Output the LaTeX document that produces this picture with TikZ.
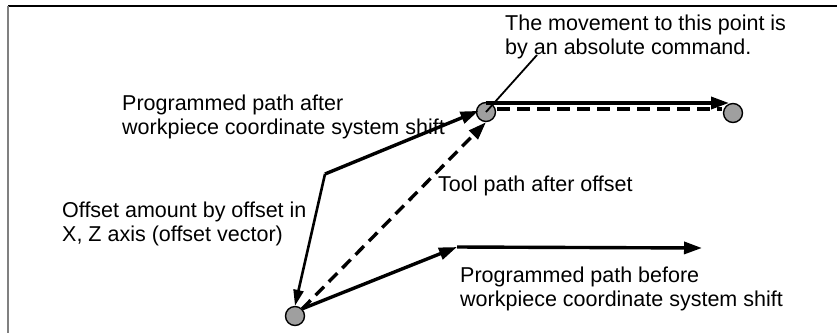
\documentclass[tikz,border=0pt]{standalone}
\usepackage{fontspec}
\setmainfont{Liberation Sans}
\usetikzlibrary{arrows.meta}
\begin{document}
\begin{tikzpicture}[x=1pt,y=-1pt,
  lbl/.style={anchor=west,align=left,inner sep=0pt,font=\fontsize{21.5}{23.5}\selectfont},
  pth/.style={line width=3.4pt,-{Triangle[length=18pt,width=12pt]}},
  blob/.style={circle,fill=gray!75,draw=black,line width=1.4pt,minimum size=19pt,inner sep=0pt}]
\useasboundingbox (0,0) rectangle (837,333);
% frame
\draw[line width=1.4pt] (8,6) -- (837,6);
\draw[line width=1.4pt,gray] (8,6) -- (8,333);
% points
\node[blob] (p0) at (295,316) {};
\node[blob] (p1) at (486,112) {};
\node[blob] (p2) at (733,113) {};
\coordinate (bend) at (325,174);
\coordinate (mid) at (457,247);
\coordinate (endb) at (702,248);
\coordinate (t1) at (486,103);
\coordinate (t2) at (729,103);
\coordinate (d1) at (497,109);
\coordinate (d2) at (722,109);
\coordinate (lead) at (537,55);
% before shift
\draw[pth] (p0.north east) -- (mid);
\draw[pth] (mid) -- (endb);
% after shift
\draw[pth,shorten >=-3pt] (bend) -- (p1.west);
\draw[line width=2.6pt,-{Triangle[length=16pt,width=10pt]}] (bend) -- (p0.north);
% top
\draw[pth] (t1) -- (t2);
\draw[line width=3.4pt,dash pattern=on 13pt off 7pt] (d1) -- (d2);
% tool path
\draw[line width=3.4pt,dash pattern=on 12pt off 7pt,-{Triangle[length=18pt,width=12pt]}] (p0.north east) -- (p1.south);
% leader
\draw[line width=1.8pt] (p1.center) -- (lead);
% labels
\node[lbl] (tmove) at (505,37) {The movement to this point is\\by an absolute command.};
\node[lbl] (tafter) at (122,117) {Programmed path after\\workpiece coordinate system shift};
\node[lbl] (ttool) at (438,186) {Tool path after offset};
\node[lbl] (toff) at (62,224) {Offset amount by offset in\\X, Z axis (offset vector)};
\node[lbl] (tbefore) at (460,289) {Programmed path before\\workpiece coordinate system shift};
\end{tikzpicture}
\end{document}
